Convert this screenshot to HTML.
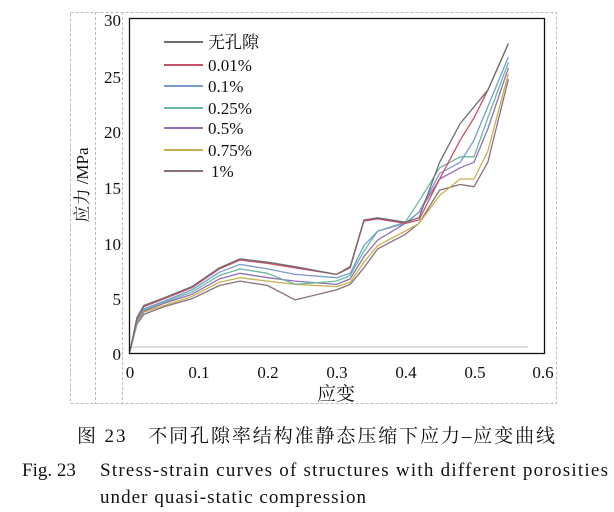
<!DOCTYPE html>
<html><head><meta charset="utf-8">
<style>
html,body{margin:0;padding:0;background:#fff;width:614px;height:512px;overflow:hidden}
svg{display:block}
.t{font-family:"Liberation Serif","Noto Serif CJK SC",serif;fill:#111}
</style></head><body>
<svg id="s" width="614" height="512" xmlns="http://www.w3.org/2000/svg">
<g stroke="#bbb" stroke-dasharray="3,2" fill="none" stroke-width="1">
<rect x="70.5" y="12.5" width="486" height="391"/>
<line x1="95.5" y1="12" x2="95.5" y2="404"/>
<line x1="122.5" y1="12" x2="122.5" y2="404"/>
</g>
<line x1="131" y1="347" x2="528" y2="347" stroke="#ddd" stroke-width="2"/>
<g id="curves" fill="none" stroke-width="1.3" stroke-linejoin="round"></g>
<rect x="129.5" y="18.5" width="415" height="335" fill="none" stroke="#111" stroke-width="1.3"/>
<g class="t" font-size="17" text-anchor="end">
<text x="121" y="26">30</text><text x="121" y="83">25</text><text x="121" y="138">20</text>
<text x="121" y="194">15</text><text x="121" y="250">10</text><text x="121" y="305">5</text><text x="121" y="360">0</text>
</g>
<g class="t" font-size="17" text-anchor="middle">
<text x="130" y="378">0</text><text x="199" y="378">0.1</text><text x="268" y="378">0.2</text>
<text x="337" y="378">0.3</text><text x="406" y="378">0.4</text><text x="475" y="378">0.5</text><text x="543" y="378">0.6</text>
<text x="336" y="400" font-size="19">应变</text>
</g>
<text class="t" font-size="17" transform="translate(88,185) rotate(-90)" text-anchor="middle">应力 /MPa</text>
<g id="leg" class="t" font-size="17"></g>
<text class="t" font-size="19" x="77" y="442" textLength="478">图 23　不同孔隙率结构准静态压缩下应力–应变曲线</text>
<text class="t" font-size="19" x="22" y="476">Fig. 23</text>
<text class="t" font-size="19" x="100" y="476" textLength="508">Stress-strain  curves  of structures with different  porosities</text>
<text class="t" font-size="19" x="100" y="503" textLength="266">under quasi-static compression</text>
</svg>
<script>
var S=[0,0.01,0.02,0.05,0.09,0.13,0.16,0.2,0.24,0.3,0.32,0.34,0.36,0.4,0.42,0.45,0.48,0.5,0.52,0.55];
var D=[
["#6e6e6e",[0,3,4.1,4.8,5.8,7.5,8.3,8.0,7.6,6.9,7.6,11.8,12.0,11.6,12.0,17,20.5,22,23.5,27.7]],
["#c8506a",[0,2.9,4.0,4.7,5.7,7.4,8.2,7.9,7.5,6.9,7.5,11.7,11.9,11.5,11.8,15.5,19,21,23.5,27.7]],
["#7a9ad0",[0,2.8,3.8,4.5,5.5,7.1,7.8,7.4,6.9,6.6,7.0,9.5,10.8,11.5,12.5,16,17,19,22,26.5]],
["#6ab8a0",[0,2.7,3.7,4.4,5.3,6.8,7.4,7.0,6.0,6.3,6.8,9,10.8,11.6,13.5,16.5,17.5,17.5,21,26]],
["#9070b0",[0,2.6,3.6,4.3,5.1,6.5,7.0,6.6,6.3,6.0,6.5,8.5,10,11.5,12.5,15.5,16.5,17,20,25.5]],
["#c8b050",[0,2.5,3.5,4.1,4.9,6.2,6.6,6.3,6.0,5.8,6.2,8,9.5,10.8,11.5,14,15.5,15.5,18,25]],
["#8a7080",[0,2.4,3.3,4.0,4.7,5.9,6.3,5.9,4.6,5.5,6.0,7.5,9.2,10.5,11.5,14.5,15,14.8,17,24.5]]];
var g=document.getElementById('curves'),ns="http://www.w3.org/2000/svg";
D.slice().reverse().forEach(function(c){var p=document.createElementNS(ns,'polyline');
p.setAttribute('points',S.map(function(s,i){return (130+688*s).toFixed(1)+','+(351-11.1*c[1][i]).toFixed(1)}).join(' '));
p.setAttribute('stroke',c[0]);g.appendChild(p);});
var L=["无孔隙","0.01%","0.1%","0.25%","0.5%","0.75%","1%"],ys=[42,65,86,108,128,150,171];
var lg=document.getElementById('leg');
L.forEach(function(t,i){var l=document.createElementNS(ns,'line');l.setAttribute('x1',164);l.setAttribute('x2',203);
l.setAttribute('y1',ys[i]);l.setAttribute('y2',ys[i]);l.setAttribute('stroke',D[i][0]);l.setAttribute('stroke-width',2);lg.appendChild(l);
var x=document.createElementNS(ns,'text');x.setAttribute('x',i==6?211:208);x.setAttribute('y',ys[i]+6);x.textContent=t;lg.appendChild(x);});
</script>
</body></html>
